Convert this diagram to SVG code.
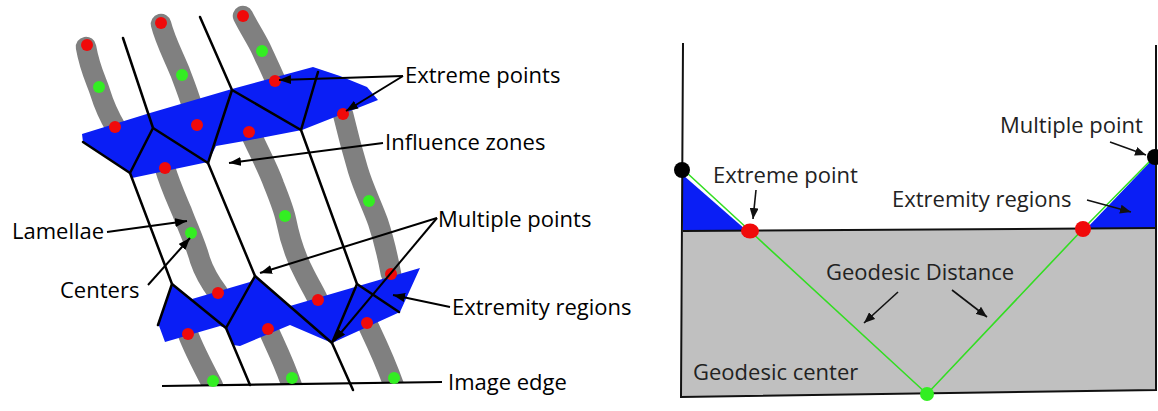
<svg xmlns="http://www.w3.org/2000/svg" width="1158" height="411" viewBox="0 0 1158 411">
<style>
.lam{fill:none;stroke:#808080;stroke-width:20.5;stroke-linecap:round;stroke-linejoin:round}
.band{fill:#0a1ef5;stroke:none}
.vor{fill:none;stroke:#000;stroke-width:2.5;stroke-linecap:round;stroke-linejoin:round}
.red{fill:#f00a0a}
.grn{fill:#33ee22}
.lbl{font-family:"Open Sans","Liberation Sans",sans-serif;font-size:22px;fill:#000}
.lbl2{font-family:"Open Sans","Liberation Sans",sans-serif;font-size:22px;fill:#222}
.arr{fill:none;stroke:#000;stroke-width:2;marker-end:url(#ah)}
.arr2{fill:none;stroke:#111;stroke-width:1.6;marker-end:url(#ah2)}
.edge{fill:none;stroke:#111;stroke-width:2}
.geo{fill:none;stroke:#33dd22;stroke-width:1.6}
</style>
<defs>
<marker id="ah" markerUnits="userSpaceOnUse" markerWidth="13" markerHeight="9" refX="12" refY="4.5" orient="auto"><path d="M0,0 L12,4.5 L0,9 z" fill="#000"/></marker>
<marker id="ah2" markerUnits="userSpaceOnUse" markerWidth="12" markerHeight="9" refX="11" refY="4.5" orient="auto"><path d="M0,0 L11,4.5 L0,9 z" fill="#111"/></marker>
<clipPath id="imgclip"><polygon points="0,0 460,0 460,382 162,386 0,386"/></clipPath>
</defs>
<rect width="1158" height="411" fill="#fff"/>

<g id="lamellae" clip-path="url(#imgclip)">
<path class="lam" d="M86,47 C90,70 97,82 100,92 C104,105 110,118 116,128"/>
<path class="lam" d="M161,24 C165,40 173,55 180,72 C186,88 193,105 197,124"/>
<path class="lam" d="M243,16 C250,30 257,40 262,51 C267,62 272,72 276,82"/>
<path class="lam" d="M165,168 C170,185 177,200 182,212 C188,228 196,245 200,260 C205,275 212,285 218,293"/>
<path class="lam" d="M250,132 C258,150 268,168 274,185 C280,200 284,210 286,220 C290,240 298,262 305,275 C310,285 315,293 318,300"/>
<path class="lam" d="M343,114 C348,135 352,150 358,170 C364,190 372,205 378,222 C384,240 388,258 391,274"/>
<path class="lam" d="M188,334 C194,350 202,365 213,386"/>
<path class="lam" d="M268,329 C275,345 283,360 292,386"/>
<path class="lam" d="M367,323 C375,340 384,358 394,386"/>
</g>

<g id="extremity-bands">
<polygon class="band" points="82,134 150,113 232,89 313,67 340,76 367,87 378,100 302,130 250,140 216,146 208,162 132,178 130,173 83,142"/>
<polygon class="band" points="158,323 172,284 192,299 250,282 255,276 290,306 420,268 400,312 332,343 290,325 240,346 233,345 226,328 220,326 165,342"/>
</g>

<g id="influence-zones">
<path class="vor" d="M123,38 L153,128 L130,173 L172,284 L158,325"/>
<path class="vor" d="M153,128 L208,163 L232,90 L200,17"/>
<path class="vor" d="M83,142 L130,173"/>
<path class="vor" d="M232,90 L301,130 L318,72"/>
<path class="vor" d="M208,163 L255,276 L226,328 L172,284"/>
<path class="vor" d="M226,328 L250,385"/>
<path class="vor" d="M301,130 L357,284 L332,343 L255,276"/>
<path class="vor" d="M332,343 L353,390"/>
<path class="vor" d="M357,284 L399,312"/>
<path class="edge" d="M162,386 L442,382" style="stroke:#000;stroke-width:2.2"/>
</g>

<g id="points">
<circle class="red" cx="87" cy="45" r="6"/>
<circle class="red" cx="161" cy="23" r="6"/>
<circle class="red" cx="243" cy="16" r="6"/>
<circle class="red" cx="115" cy="127" r="6"/>
<circle class="red" cx="197" cy="125" r="6"/>
<circle class="red" cx="275" cy="81" r="6"/>
<circle class="red" cx="165" cy="168" r="6"/>
<circle class="red" cx="249" cy="132" r="6"/>
<circle class="red" cx="343" cy="114" r="6"/>
<circle class="red" cx="218" cy="293" r="6"/>
<circle class="red" cx="318" cy="300" r="6"/>
<circle class="red" cx="391" cy="274" r="6"/>
<circle class="red" cx="188" cy="334" r="6"/>
<circle class="red" cx="268" cy="329" r="6"/>
<circle class="red" cx="367" cy="323" r="6"/>
<circle class="grn" cx="99" cy="87" r="6"/>
<circle class="grn" cx="182" cy="75" r="6"/>
<circle class="grn" cx="262" cy="51" r="6"/>
<circle class="grn" cx="191" cy="233" r="6"/>
<circle class="grn" cx="285" cy="216" r="6"/>
<circle class="grn" cx="369" cy="201" r="6"/>
<circle class="grn" cx="213" cy="381" r="6"/>
<circle class="grn" cx="292" cy="378" r="6"/>
<circle class="grn" cx="394" cy="378" r="6"/>
</g>

<g id="left-labels">
<text class="lbl" x="405" y="83">Extreme points</text>
<text class="lbl" x="385" y="150">Influence zones</text>
<text class="lbl" x="438" y="227">Multiple points</text>
<text class="lbl" x="452" y="315">Extremity regions</text>
<text class="lbl" x="448" y="390">Image edge</text>
<text class="lbl" x="12" y="239">Lamellae</text>
<text class="lbl" x="60" y="298">Centers</text>
</g>

<g id="geodesic-panel">
<polygon points="683,231 1156,228 1156,390 681,397" fill="#c0c0c0"/>
<polygon class="band" points="683,175 683,231 746,230"/>
<polygon class="band" points="1087,228 1152,160 1156,160 1156,228"/>
<path class="edge" d="M683,43 L681,397 L1156,390 L1156,45"/>
<path class="edge" d="M683,231 L1156,228"/>
<path class="geo" d="M686,172 L750,231 L927,394 L1083,229 L1153,158"/>
<circle cx="682" cy="170" r="8" fill="#000"/>
<circle cx="1155" cy="157" r="8" fill="#000"/>
<ellipse cx="750" cy="231" rx="9" ry="7.5" class="red"/>
<circle cx="1083" cy="229" r="8" class="red"/>
<circle cx="927" cy="394" r="7" class="grn"/>
<text class="lbl2" x="713" y="183">Extreme point</text>
<text class="lbl2" x="1000" y="133">Multiple point</text>
<text class="lbl2" x="892" y="207">Extremity regions</text>
<text class="lbl2" x="826" y="280">Geodesic Distance</text>
<text class="lbl2" x="693" y="380">Geodesic center</text>
</g>

<g id="connectors">
<path class="arr" d="M403,76 L279,80"/>
<path class="arr" d="M403,76 L346,111"/>
<path class="arr" d="M383,143 L229,163"/>
<path class="arr" d="M437,218 L260,273"/>
<path class="arr" d="M437,218 L334,341"/>
<path class="arr" d="M450,307 L393,295"/>
<path class="arr" d="M107,232 L187,221"/>
<path class="arr" d="M148,285 L190,238"/>
<path class="arr2" d="M756,190 L753,219"/>
<path class="arr2" d="M1110,142 L1146,155"/>
<path class="arr2" d="M1087,200 L1131,212"/>
<path class="arr2" d="M898,292 L864,323"/>
<path class="arr2" d="M952,290 L987,317"/>
</g>
</svg>
